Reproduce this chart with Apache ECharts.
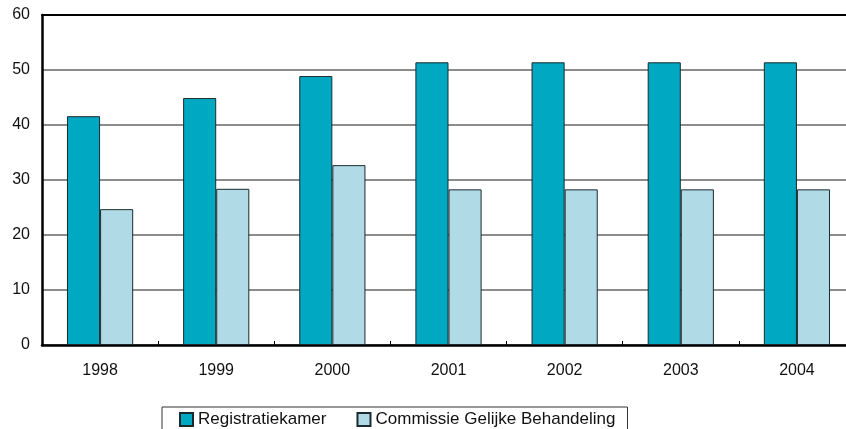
<!DOCTYPE html>
<html>
<head>
<meta charset="utf-8">
<script src="https://cdn.jsdelivr.net/npm/echarts@6/dist/echarts.min.js"></script>
<style>
  html, body { margin: 0; padding: 0; background: #fff; }
  #container { width: 846px; height: 429px; }
</style>
</head>
<body>
<div id="container"></div>
<script>
var dom = document.getElementById('container');
var myChart = echarts.init(dom, null, { renderer: 'canvas' });

const years = ['1998', '1999', '2000', '2001', '2002', '2003', '2004'];
const registratiekamer = [41.6, 44.9, 48.9, 51.4, 51.4, 51.4, 51.4];
const commissie = [24.7, 28.4, 32.7, 28.3, 28.3, 28.3, 28.3];
const seriesNames = ['Registratiekamer', 'Commissie Gelijke Behandeling'];

const font = 'Liberation Sans, Arial, sans-serif';

var option = {
    animation: false,
    backgroundColor: '#fff',
    grid: { left: 42, top: 15, right: -9, bottom: 84, outerBoundsMode: 'none' },
    legend: {
        data: seriesNames,
        left: 162,
        top: 407,
        icon: 'rect',
        itemWidth: 13,
        itemHeight: 13,
        itemGap: 30,
        padding: [4, 12, 6, 17],
        borderColor: '#333',
        borderWidth: 1,
        textStyle: { fontFamily: font, fontSize: 17, color: '#111' }
    },
    xAxis: [
        {
            type: 'category',
            data: years,
            axisLine: { lineStyle: { color: '#000', width: 2.5 } },
            axisTick: { show: true, inside: true, length: 4, lineStyle: { color: '#000', width: 1 } },
            axisLabel: { fontFamily: font, fontSize: 16, color: '#111', margin: 18 }
        },
        {
            type: 'category',
            data: years,
            position: 'top',
            axisLine: { lineStyle: { color: '#000', width: 2 } },
            axisTick: { show: false },
            axisLabel: { show: false }
        }
    ],
    yAxis: {
        type: 'value',
        min: 0,
        max: 60,
        interval: 10,
        axisLine: { show: true, lineStyle: { color: '#000', width: 2.5 } },
        axisTick: { show: false },
        axisLabel: { fontFamily: font, fontSize: 16, color: '#111', margin: 12 },
        splitLine: { lineStyle: { color: '#666', width: 1.5 } }
    },
    series: [
        {
            name: seriesNames[0],
            type: 'bar',
            data: registratiekamer,
            barGap: '0%',
            barCategoryGap: '43%',
            itemStyle: { color: '#00a8c2', borderColor: '#1a2a2e', borderWidth: 1 }
        },
        {
            name: seriesNames[1],
            type: 'bar',
            data: commissie,
            itemStyle: { color: '#b0dbe6', borderColor: '#1a2a2e', borderWidth: 1 }
        }
    ]
};

myChart.setOption(option);
window.addEventListener('resize', myChart.resize);
</script>
</body>
</html>
